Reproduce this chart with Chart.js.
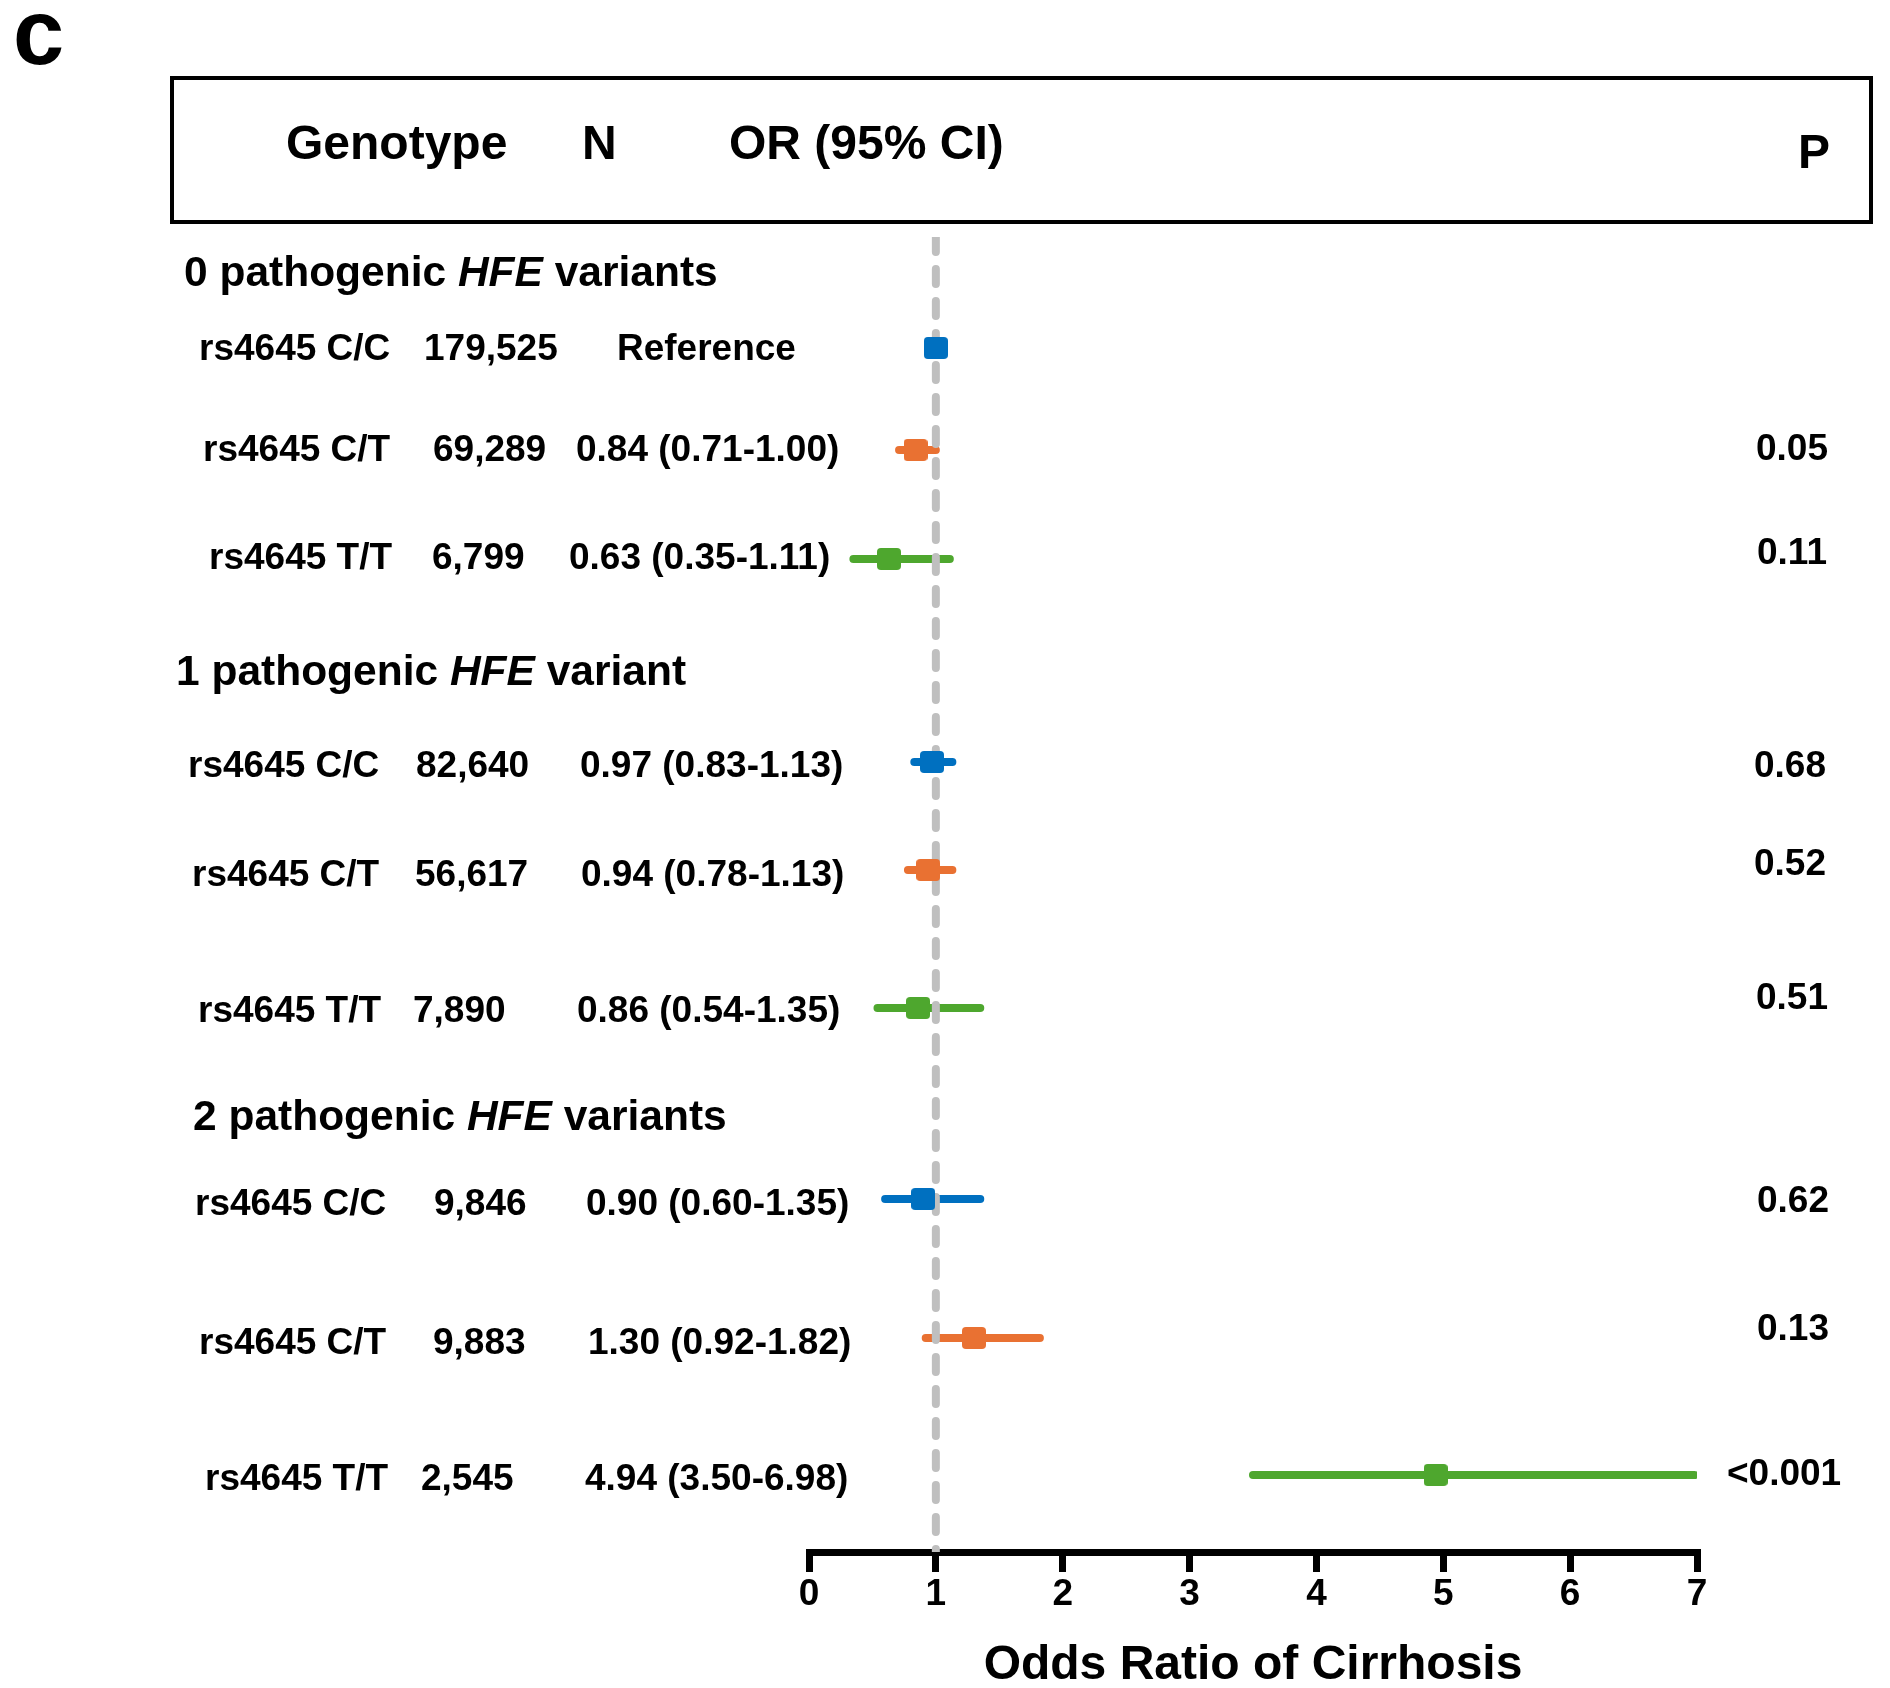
<!DOCTYPE html>
<html>
<head>
<meta charset="utf-8">
<script src="https://cdn.jsdelivr.net/npm/chart.js@4/dist/chart.umd.min.js"></script>
<style>
html,body{margin:0;padding:0;background:#ffffff;}
canvas{display:block;}
</style>
</head>
<body>
<canvas id="chart" width="1890" height="1688"></canvas>
<script>
// ---------------- DATA ----------------
const genotypes = ['rs4645 C/C','rs4645 C/T','rs4645 T/T','rs4645 C/C','rs4645 C/T','rs4645 T/T','rs4645 C/C','rs4645 C/T','rs4645 T/T'];
const sampleN = ['179,525','69,289','6,799','82,640','56,617','7,890','9,846','9,883','2,545'];
const orLabels = ['Reference','0.84 (0.71-1.00)','0.63 (0.35-1.11)','0.97 (0.83-1.13)','0.94 (0.78-1.13)','0.86 (0.54-1.35)','0.90 (0.60-1.35)','1.30 (0.92-1.82)','4.94 (3.50-6.98)'];
const pValues = ['','0.05','0.11','0.68','0.52','0.51','0.62','0.13','<0.001'];
const oddsRatio = [1.00,0.84,0.63,0.97,0.94,0.86,0.90,1.30,4.94];
const ciLow  = [null,0.71,0.35,0.83,0.78,0.54,0.60,0.92,3.50];
const ciHigh = [null,1.00,1.11,1.13,1.13,1.35,1.35,1.82,6.98];
const genotypeKind = [0,1,2,0,1,2,0,1,2];
const groupTitles = [['0 pathogenic ','HFE',' variants'],['1 pathogenic ','HFE',' variant'],['2 pathogenic ','HFE',' variants']];
const headerLabels = ['Genotype','N','OR (95% CI)','P'];
const xTicks = [0,1,2,3,4,5,6,7];
const xTitle = 'Odds Ratio of Cirrhosis';
const panelLetter = 'c';
const refValue = 1;

// ---------------- LAYOUT / STYLE ----------------
const kindColors = ['#0070C0','#E97132','#4EA72E'];
const rowSlot   = [1.11,2.13,3.22,5.25,6.33,7.71,9.62,11.01,12.38];
const groupSlot = [0.33,4.32,8.77];
const Y_MAX = 13.15;
const colGenoX = [199,203,209,188,192,198,195,199,205];
const colNX    = [424,433,432,416,415,413,434,433,421];
const colORX   = [617,576,569,580,581,577,586,588,585];
const colPX    = [0,1756,1757,1754,1754,1756,1757,1757,1727];
const textShift = [2,1,0,5,6,4,6,6,5];
const pShift   = [0,0,-5,5,-5,-9,3,-8,0];
const groupX   = [184,176,193];
const groupShift = 4;
const headerX  = [286,582,729,1798];
const headerY  = [146,146,146,155];
const FAMILY = '"Liberation Sans", Arial, Helvetica, sans-serif';

function makeMarker(color){
  const w = 24, h = 22, r = 4;
  const c = document.createElement('canvas');
  c.width = w; c.height = h;
  const g = c.getContext('2d');
  g.fillStyle = color;
  g.beginPath();
  g.moveTo(r,0); g.lineTo(w-r,0); g.arcTo(w,0,w,r,r);
  g.lineTo(w,h-r); g.arcTo(w,h,w-r,h,r);
  g.lineTo(r,h); g.arcTo(0,h,0,h-r,r);
  g.lineTo(0,r); g.arcTo(0,0,r,0,r);
  g.closePath(); g.fill();
  return c;
}
const markers = kindColors.map(makeMarker);

const datasets = [];
// confidence intervals
oddsRatio.forEach((v,i)=>{
  if (ciLow[i] === null) return;
  datasets.push({
    type:'line',
    data:[{x:ciLow[i],y:rowSlot[i]},{x:ciHigh[i],y:rowSlot[i]}],
    borderColor: kindColors[genotypeKind[i]],
    borderWidth: 8,
    borderCapStyle:'round',
    pointRadius:0,
    order:3
  });
});
// reference line at OR = 1
datasets.push({
  type:'line',
  data:[{x:refValue,y:0},{x:refValue,y:Y_MAX}],
  borderColor:'#BFBFBF',
  borderWidth:8,
  borderDash:[15,17],
  borderCapStyle:'round',
  pointRadius:0,
  order:2
});
// point estimates
datasets.push({
  type:'scatter',
  data: oddsRatio.map((v,i)=>({x:v,y:rowSlot[i]})),
  pointStyle: ctx => markers[genotypeKind[ctx.dataIndex]],
  pointRadius: 12,
  order:1
});

const textPlugin = {
  id:'forestText',
  afterDraw(chart){
    const ctx = chart.ctx;
    const ys = chart.scales.y;
    ctx.save();
    ctx.fillStyle = '#000';
    ctx.textAlign = 'left';
    // panel letter
    ctx.font = 'bold 92px ' + FAMILY;
    ctx.textBaseline = 'alphabetic';
    ctx.fillText(panelLetter, 13, 64);
    ctx.textBaseline = 'middle';
    // header box
    ctx.lineWidth = 4;
    ctx.strokeStyle = '#000';
    ctx.strokeRect(172, 78, 1699, 144);
    ctx.font = 'bold 48px ' + FAMILY;
    headerLabels.forEach((t,i)=>ctx.fillText(t, headerX[i], headerY[i]));
    // group titles
    groupTitles.forEach((parts,g)=>{
      let x = groupX[g];
      const y = ys.getPixelForValue(groupSlot[g]) + groupShift;
      parts.forEach((p,k)=>{
        ctx.font = (k===1 ? 'italic bold 42.5px ' : 'bold 42.5px ') + FAMILY;
        ctx.fillText(p, x, y);
        x += ctx.measureText(p).width;
      });
    });
    // rows
    ctx.font = 'bold 37px ' + FAMILY;
    genotypes.forEach((gname,i)=>{
      const y = ys.getPixelForValue(rowSlot[i]);
      const ty = y + textShift[i];
      ctx.fillText(gname, colGenoX[i], ty);
      ctx.fillText(sampleN[i], colNX[i], ty);
      ctx.fillText(orLabels[i], colORX[i], ty);
      if (pValues[i]) ctx.fillText(pValues[i], colPX[i], y + pShift[i]);
    });
    ctx.restore();
  }
};

new Chart(document.getElementById('chart'), {
  data:{datasets},
  options:{
    responsive:false,
    animation:false,
    devicePixelRatio:1,
    events:[],
    layout:{padding:{left:809,right:193,top:237,bottom:0}},
    plugins:{legend:{display:false},tooltip:{enabled:false}},
    scales:{
      x:{
        type:'linear', position:'bottom', min:0, max:7,
        afterBuildTicks: s => { s.ticks = xTicks.map(v=>({value:v})); },
        afterFit: s => { s.height = 136; },
        ticks:{font:{family:FAMILY,size:37,weight:'bold'},color:'#000',padding:1,maxRotation:0,autoSkip:false},
        grid:{drawOnChartArea:false,drawTicks:true,tickLength:20,lineWidth:7,color:'#000'},
        border:{display:true,width:7,color:'#000'},
        title:{display:true,text:xTitle,color:'#000',font:{family:FAMILY,size:48,weight:'bold',lineHeight:0.92},padding:{top:0,bottom:0}}
      },
      y:{type:'linear',display:false,reverse:true,min:0,max:Y_MAX}
    }
  },
  plugins:[textPlugin]
});
</script>
</body>
</html>
